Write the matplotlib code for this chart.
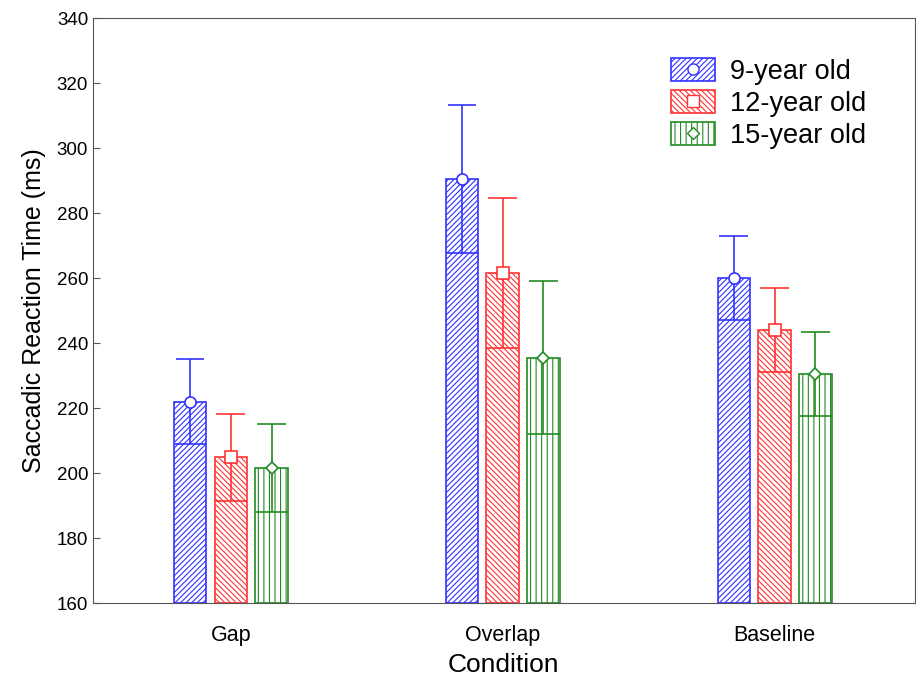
import matplotlib.pyplot as plt
import numpy as np
from matplotlib.patches import Patch
from matplotlib.lines import Line2D

plt.rcParams['font.family'] = ['Liberation Sans', 'DejaVu Sans']
plt.rcParams['hatch.linewidth'] = 0.8

conditions = ["Gap", "Overlap", "Baseline"]
groups = ["9-year old", "12-year old", "15-year old"]
means = {
    "9-year old": [222, 290.5, 260],
    "12-year old": [204.8, 261.5, 244],
    "15-year old": [201.5, 235.5, 230.5],
}
errors = {
    "9-year old": [13, 22.8, 12.8],
    "12-year old": [13.3, 23, 13],
    "15-year old": [13.5, 23.5, 13],
}
colors = ["#3333ff", "#ff3333", "#228b22"]
hatches = ["//////", "\\\\\\\\\\\\", "|||"]
markers = ["o", "s", "D"]
msizes = [8, 8, 6]

fig = plt.figure(figsize=(9.16, 6.8), dpi=100)
ax = fig.add_axes([0.1015, 0.1132, 0.897, 0.8603])

x = np.arange(len(conditions))
width = 0.12
offsets = [-0.15, 0, 0.15]
cap_up = 0.053
handles = []
for g, off, c, h, m, ms in zip(groups, offsets, colors, hatches, markers, msizes):
    xs = x + off
    mu = np.array(means[g])
    er = np.array(errors[g])
    ax.bar(xs, mu - 160, width, bottom=160, facecolor="white",
           edgecolor=c, hatch=h, linewidth=1.2, zorder=2)
    # error whiskers: short cap on top, full-width cap below
    ax.vlines(xs, mu - er, mu + er, colors=c, linewidth=1.2, zorder=3)
    ax.hlines(mu + er, xs - cap_up, xs + cap_up, colors=c, linewidth=1.2, zorder=3)
    ax.hlines(mu - er, xs - width / 2, xs + width / 2, colors=c, linewidth=1.2, zorder=3)
    ax.plot(xs, mu, linestyle="none", marker=m, markersize=ms,
            markerfacecolor="white", markeredgecolor=c, markeredgewidth=1.2, zorder=4)
    handles.append((Patch(facecolor="white", edgecolor=c, hatch=h, linewidth=1.2),
                    Line2D([], [], linestyle="none", marker=m, markersize=ms,
                           markerfacecolor="white", markeredgecolor=c)))

ax.set_xlim(-0.507, 2.515)
ax.set_ylim(160, 340)
ax.set_yticks(np.arange(160, 341, 20))
ax.set_xticks(x)
ax.set_xticklabels(conditions)
ax.tick_params(direction="in", length=5, color="#555555")
ax.tick_params(axis="y", labelsize=13.5)
ax.tick_params(axis="x", labelsize=15.5, pad=16)
for s in ax.spines.values():
    s.set_color("#555555")
ax.set_xlabel("Condition", fontsize=19, labelpad=5)
ax.set_ylabel("Saccadic Reaction Time (ms)", fontsize=18, labelpad=8)

ax.legend(handles, groups, loc="upper left", bbox_to_anchor=(0.704, 0.931),
          frameon=False, fontsize=19.5, handlelength=1.6, handleheight=0.9,
          handletextpad=0.55, labelspacing=0.2, borderpad=0, borderaxespad=0)

fig.savefig("out.png", dpi=100)
